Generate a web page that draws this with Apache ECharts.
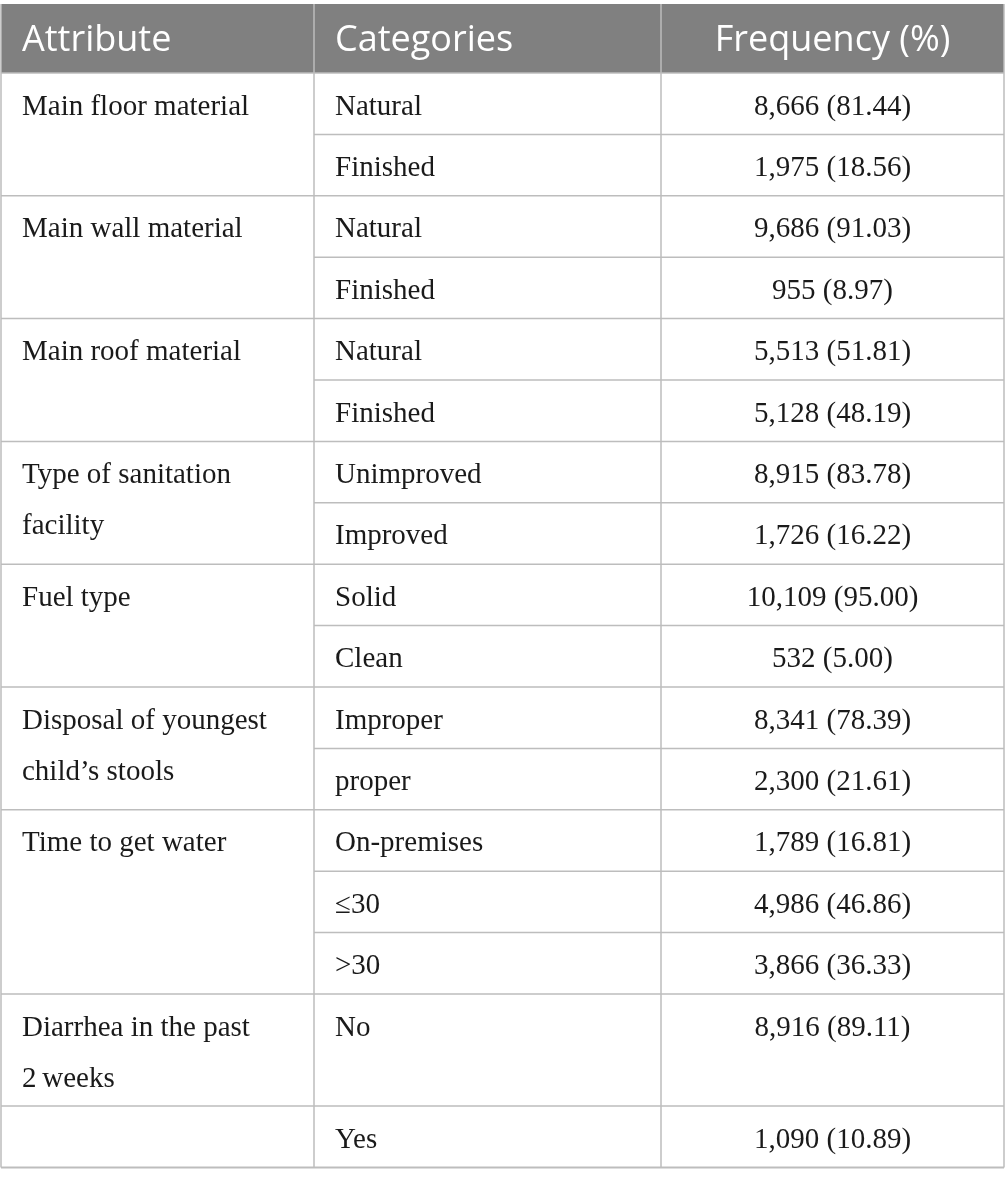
<!DOCTYPE html>
<html>
<head>
<meta charset="utf-8">
<script src="https://cdn.jsdelivr.net/npm/echarts@6/dist/echarts.min.js"></script>
<style>
  html, body { margin: 0; padding: 0; background: #fff; }
  #main { width: 1005px; height: 1185px; }
</style>
</head>
<body>
<div id="main"></div>
<script>
// 表头
const headers = ['Attribute', 'Categories', 'Frequency (%)'];
// 属性分组（每组对应几行）
const attributes = [
  'Main floor material',
  'Main wall material',
  'Main roof material',
  'Type of sanitation\nfacility',
  'Fuel type',
  'Disposal of youngest\nchild\u2019s stools',
  'Time to get water',
  'Diarrhea in the past\n2\u2009weeks',
  ''
];
const groupSizes = [2, 2, 2, 2, 2, 2, 3, 1, 1];
// 每行数据
const categories = [
  'Natural', 'Finished',
  'Natural', 'Finished',
  'Natural', 'Finished',
  'Unimproved', 'Improved',
  'Solid', 'Clean',
  'Improper', 'proper',
  'On-premises', '\u226430', '>30',
  'No',
  'Yes'
];
const counts = [8666, 1975, 9686, 955, 5513, 5128, 8915, 1726, 10109, 532, 8341, 2300, 1789, 4986, 3866, 8916, 1090];
const percents = [81.44, 18.56, 91.03, 8.97, 51.81, 48.19, 83.78, 16.22, 95.00, 5.00, 78.39, 21.61, 16.81, 46.86, 36.33, 89.11, 10.89];

// 布局参数
const colX = [1, 314, 661, 1004];
const headTop = 4, headBottom = 73;
const rowH = 61.4;
const tallRows = { 15: 112 }; // 第16行（No）较高
const lineColor = '#bdbdbd';
const textColor = '#1a1a1a';
const serif = '"Liberation Serif", "Times New Roman", serif';
const sans = '"Open Sans", "Noto Sans", sans-serif';

function fmt(n) {
  return n.toLocaleString('en-US');
}

function buildGraphic() {
  let els = [];
  // 表头背景
  els.push({
    type: 'rect',
    shape: { x: colX[0], y: headTop, width: colX[3] - colX[0], height: headBottom - headTop },
    style: { fill: '#808080' }
  });
  // 表头文字
  let hx = [22, 335, (colX[2] + colX[3]) / 2];
  let halign = ['left', 'left', 'center'];
  headers.forEach((h, i) => {
    els.push({
      type: 'text', x: hx[i], y: 41,
      style: { text: h, fill: '#fff', font: '36px ' + sans, align: halign[i], verticalAlign: 'middle' }
    });
  });

  // 行位置
  let rowTops = [];
  let y = headBottom;
  categories.forEach((c, i) => {
    rowTops.push(y);
    y += tallRows[i] || rowH;
  });
  let tableBottom = y;

  // 行内容
  categories.forEach((c, i) => {
    let top = rowTops[i];
    els.push({
      type: 'text', x: 335, y: top + 34,
      style: { text: c, fill: textColor, font: '29px ' + serif, verticalAlign: 'middle' }
    });
    els.push({
      type: 'text', x: (colX[2] + colX[3]) / 2, y: top + 34,
      style: { text: fmt(counts[i]) + ' (' + percents[i].toFixed(2) + ')', fill: textColor, font: '29px ' + serif, align: 'center', verticalAlign: 'middle' }
    });
    // 行内分隔线（类别和频率列）
    els.push({
      type: 'line',
      shape: { x1: colX[1], y1: top, x2: colX[3], y2: top },
      style: { stroke: lineColor, lineWidth: 1.5 }
    });
  });

  // 分组文字和分组线
  let r = 0;
  attributes.forEach((a, g) => {
    let top = rowTops[r];
    a.split('\n').forEach((line, li) => {
      els.push({
        type: 'text', x: 22, y: top + 34 + li * 51,
        style: { text: line, fill: textColor, font: '29px ' + serif, verticalAlign: 'middle' }
      });
    });
    els.push({
      type: 'line',
      shape: { x1: colX[0], y1: top, x2: colX[1], y2: top },
      style: { stroke: lineColor, lineWidth: 1.5 }
    });
    r += groupSizes[g];
  });

  // 底线
  els.push({
    type: 'line',
    shape: { x1: colX[0], y1: tableBottom, x2: colX[3], y2: tableBottom },
    style: { stroke: lineColor, lineWidth: 2 }
  });
  // 竖线
  colX.forEach((x) => {
    els.push({
      type: 'line',
      shape: { x1: x, y1: headTop, x2: x, y2: tableBottom },
      style: { stroke: lineColor, lineWidth: 1.5 }
    });
  });
  return els;
}

let myChart = echarts.init(document.getElementById('main'), null, { renderer: 'canvas' });
myChart.setOption({
  animation: false,
  backgroundColor: '#fff',
  graphic: { elements: buildGraphic() }
});
</script>
</body>
</html>
